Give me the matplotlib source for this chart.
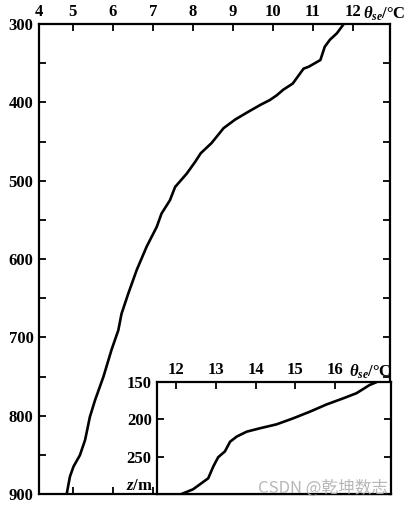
import matplotlib
matplotlib.use("Agg")
import matplotlib.pyplot as plt
import matplotlib.transforms as mtransforms

plt.rcParams['font.family'] = ['Liberation Serif', 'DejaVu Serif']
plt.rcParams['mathtext.fontset'] = 'custom'
plt.rcParams['mathtext.rm'] = 'Liberation Serif:bold'
plt.rcParams['mathtext.it'] = 'Liberation Serif:italic:bold'
plt.rcParams['mathtext.bf'] = 'Liberation Serif:bold'

# Main profile: pressure (hPa) vs theta_se (degC)
main_p = [301, 312, 320, 329, 346, 354.5, 357, 376, 384, 391, 397, 403, 412, 422,
          433, 452, 465, 476, 491, 508, 525, 542, 559, 584, 614, 644, 670, 691, 716,
          750, 780, 801.5, 831, 850.5, 865, 878, 900]
main_t = [11.76, 11.6, 11.43, 11.3, 11.19, 10.9, 10.77, 10.5, 10.26, 10.1, 9.93, 9.70,
          9.39, 9.06, 8.77, 8.47, 8.2, 8.06, 7.85, 7.56, 7.43, 7.22, 7.1, 6.85, 6.6,
          6.39, 6.22, 6.14, 5.97, 5.77, 5.56, 5.43, 5.31, 5.18, 5.02, 4.93, 4.85]
main_xticks = [5, 6, 7, 8, 9, 10, 11, 12]
main_yticks = [300, 400, 500, 600, 700, 800, 900]
main_yminor = [350, 450, 550, 650, 750, 850]

# Inset profile: height (m) vs theta_se (degC)
ins_z = [300, 293.7, 279, 263, 250.8, 243, 230, 223, 216.5, 212, 206.7, 198.6,
         189.7, 180, 172, 165, 154, 150]
ins_t = [12.14, 12.43, 12.81, 12.94, 13.06, 13.23, 13.36, 13.53, 13.78, 14.11, 14.53,
         14.95, 15.37, 15.79, 16.2, 16.54, 16.87, 17.05]
ins_xticks = [12, 13, 14, 15, 16]
ins_yticks = [150, 200, 250]

W, H = 406, 508
fig = plt.figure(figsize=(W / 100, H / 100), dpi=100)

def rect(l, t, r, b):
    return [l / W, 1 - b / H, (r - l) / W, (b - t) / H]

fs = 12
pad = 3

def top_text(axx, xfrac, s, size, ha='left', va='baseline', extra=1.2):
    tr = mtransforms.offset_copy(axx.transAxes, fig=fig, x=0, y=pad + extra,
                                 units='points')
    axx.text(xfrac, 1.0, s, transform=tr, ha=ha, va=va,
             fontsize=size, fontweight='bold')

ax = fig.add_axes(rect(39, 24, 390, 494))
ax.plot(main_t, main_p, color='black', lw=1.9)
ax.set_xlim(4.158, 12.93)
ax.set_ylim(900, 300)
ax.set_xticks(main_xticks)
ax.set_xticklabels([str(v) for v in main_xticks])
ax.set_yticks(main_yticks)
ax.set_yticks(main_yminor, minor=True)
ax.tick_params(axis='x', which='both', direction='in', top=True, bottom=True,
               labeltop=True, labelbottom=False, length=5, width=1.3,
               labelsize=fs, pad=pad)
ax.tick_params(axis='y', which='both', direction='in', left=True, right=True,
               length=5, width=1.3, labelsize=fs, pad=4)
for lab in ax.get_xticklabels() + ax.get_yticklabels():
    lab.set_fontweight('bold')
for s in ax.spines.values():
    s.set_linewidth(1.6)
top_text(ax, 0.0, '4', fs, ha='center', va='bottom', extra=0)
top_text(ax, 0.922, r'$\theta_{se}$/°C', fs)

axi = fig.add_axes(rect(157.3, 382, 390.7, 494))
axi.plot(ins_t, ins_z, color='black', lw=1.9)
axi.set_xlim(11.53, 17.4)
axi.set_ylim(300, 150)
axi.set_xticks(ins_xticks)
axi.set_xticklabels([str(v) for v in ins_xticks])
axi.set_yticks(ins_yticks)
axi.tick_params(axis='x', direction='in', top=True, bottom=False, labeltop=True,
                labelbottom=False, length=5, width=1.3, labelsize=fs, pad=pad)
axi.tick_params(axis='y', direction='in', left=True, right=True, length=5,
                width=1.3, labelsize=fs, pad=4)
for lab in axi.get_xticklabels() + axi.get_yticklabels():
    lab.set_fontweight('bold')
for s in axi.spines.values():
    s.set_linewidth(1.6)
top_text(axi, 0.821, r'$\theta_{se}$/°C', fs)
axi.text(-0.018, 0.075, r'$z$/m', transform=axi.transAxes, ha='right',
         va='center', fontsize=fs, fontweight='bold')

fig.text(388 / W, 1 - 488 / H, 'CSDN @乾坤数志', ha='right', va='center',
         fontsize=12, color='#b0b0b0', alpha=0.9,
         family=['Noto Sans CJK SC', 'DejaVu Sans'])

fig.savefig('out.png', dpi=100)
